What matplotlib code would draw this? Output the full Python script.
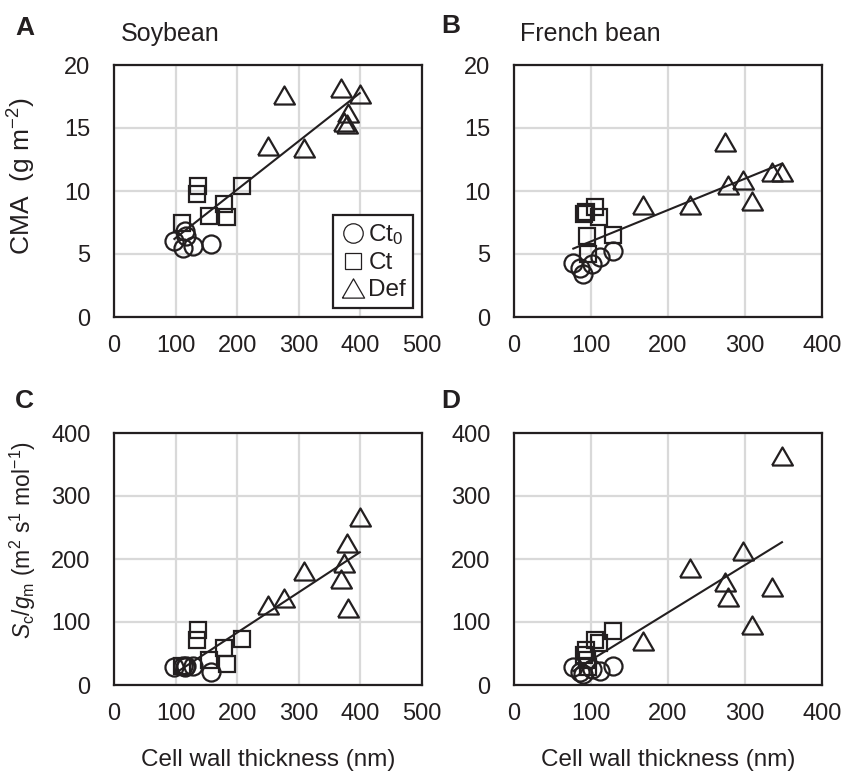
import numpy as np
import matplotlib
matplotlib.use("Agg")
import matplotlib.pyplot as plt
from matplotlib.lines import Line2D

plt.rcParams['font.family'] = ['Liberation Sans', 'DejaVu Sans']
plt.rcParams['mathtext.fontset'] = 'custom'
plt.rcParams['mathtext.rm'] = 'Liberation Sans'
plt.rcParams['mathtext.it'] = 'Liberation Sans:italic'
plt.rcParams['mathtext.bf'] = 'Liberation Sans:bold'

# ---------------- data ----------------
# Soybean
soy_ct0_x = [98, 112, 115, 117, 128, 158]
soy_ct0_cma = [6.0, 5.5, 6.8, 6.4, 5.6, 5.8]
soy_ct0_scgm = [28, 30, 28, 30, 30, 20]

soy_ct_x = [111, 135, 137, 155, 178, 183, 208]
soy_ct_cma = [7.5, 9.8, 10.4, 8.0, 9.0, 7.9, 10.4]
soy_ct_scgm = [30, 71, 87, 40, 59, 33, 73]

soy_def_x = [250, 276, 309, 368, 373, 378, 380, 399]
soy_def_cma = [13.6, 17.6, 13.4, 18.2, 15.5, 15.3, 16.2, 17.7]
soy_def_scgm = [127, 138, 181, 169, 194, 225, 122, 267]

# French bean
fb_ct0_x = [77, 86, 90, 101, 112, 128]
fb_ct0_cma = [4.3, 3.9, 3.4, 4.2, 4.8, 5.2]
fb_ct0_scgm = [29, 21, 18, 26, 22, 30]

fb_ct_x = [91, 93, 95, 96, 105, 110, 128]
fb_ct_cma = [8.2, 8.3, 6.4, 5.0, 8.7, 7.9, 6.5]
fb_ct_scgm = [48, 56, 40, 28, 71, 66, 85]

fb_def_x = [167, 228, 274, 278, 298, 309, 335, 348]
fb_def_cma = [8.9, 8.9, 13.9, 10.5, 10.9, 9.2, 11.5, 11.5]
fb_def_scgm = [70, 185, 164, 140, 212, 95, 156, 363]

legend_labels = ['Ct$_0$', 'Ct', 'Def']
titles = ['Soybean', 'French bean']
panel_letters = ['A', 'B', 'C', 'D']
xlabel = 'Cell wall thickness (nm)'
ylabel_top = 'CMA  (g m$^{-2}$)'
ylabel_bot = '$S_\\mathrm{c}/g_\\mathrm{m}$ (m$^2$ s$^1$ mol$^{-1}$)'

# ---------------- figure ----------------
W, H = 845, 776
fig = plt.figure(figsize=(W / 100, H / 100), dpi=100)

def fx(px):
    return px / W

def fy(py):
    return 1 - py / H

# equilateral-ish triangle marker
tri = [(-1, -0.866), (1, -0.866), (0, 0.866), (-1, -0.866)]

pos = {
    'A': [fx(114), fy(317), fx(422) - fx(114), fy(65) - fy(317)],
    'B': [fx(514), fy(317), fx(822) - fx(514), fy(65) - fy(317)],
    'C': [fx(114), fy(685), fx(422) - fx(114), fy(433) - fy(685)],
    'D': [fx(514), fy(685), fx(822) - fx(514), fy(433) - fy(685)],
}

panels = {
    'A': (soy_ct0_x, soy_ct0_cma, soy_ct_x, soy_ct_cma, soy_def_x, soy_def_cma, 500, 20, 5, 100),
    'B': (fb_ct0_x, fb_ct0_cma, fb_ct_x, fb_ct_cma, fb_def_x, fb_def_cma, 400, 20, 5, 100),
    'C': (soy_ct0_x, soy_ct0_scgm, soy_ct_x, soy_ct_scgm, soy_def_x, soy_def_scgm, 500, 400, 100, 100),
    'D': (fb_ct0_x, fb_ct0_scgm, fb_ct_x, fb_ct_scgm, fb_def_x, fb_def_scgm, 400, 400, 100, 100),
}

txtcol = '#231f20'
mew = 1.6

for key in ['A', 'B', 'C', 'D']:
    x0, y0, x1, y1, x2, y2, xmax, ymax, ystep, xstep = panels[key]
    ax = fig.add_axes(pos[key])
    ax.set_xlim(0, xmax)
    ax.set_ylim(0, ymax)
    ax.set_xticks(np.arange(0, xmax + 1, xstep))
    ax.set_yticks(np.arange(0, ymax + 0.001, ystep))
    ax.grid(True, color='#d9d9d9', lw=1.6, zorder=0)
    ax.set_axisbelow(True)
    for sp in ax.spines.values():
        sp.set_linewidth(1.6)
        sp.set_color('#231f20')
    ax.tick_params(length=0, labelsize=17, labelcolor=txtcol)
    ax.tick_params(axis='y', pad=17)
    ax.tick_params(axis='x', pad=13)

    ax.plot(x0, y0, ls='none', marker='o', ms=13, mfc='none', mec='#231f20', mew=mew, zorder=3)
    ax.plot(x1, y1, ls='none', marker='s', ms=11, mfc='none', mec='#231f20', mew=mew, zorder=3)
    ax.plot(x2, y2, ls='none', marker=tri, ms=15, mfc='none', mec='#231f20', mew=mew, zorder=3)

    allx = np.array(list(x0) + list(x1) + list(x2), dtype=float)
    ally = np.array(list(y0) + list(y1) + list(y2), dtype=float)
    k, b = np.polyfit(allx, ally, 1)
    xs = np.array([allx.min(), allx.max()])
    ax.plot(xs, k * xs + b, color='#231f20', lw=1.5, zorder=4)

    if key == 'A':
        handles = [
            Line2D([], [], ls='none', marker='o', ms=14, mfc='none', mec='#231f20', mew=0.9),
            Line2D([], [], ls='none', marker='s', ms=12, mfc='none', mec='#231f20', mew=0.9),
            Line2D([], [], ls='none', marker=tri, ms=16, mfc='none', mec='#231f20', mew=0.9),
        ]
        leg = ax.legend(handles, legend_labels, loc='lower right', fontsize=17.5,
                        frameon=True, fancybox=False, handletextpad=0.15,
                        handlelength=1.0, borderpad=0.3, labelspacing=0.2,
                        borderaxespad=0.35, framealpha=1)
        leg.get_frame().set_edgecolor('#231f20')
        leg.get_frame().set_linewidth(1.6)
        for t in leg.get_texts():
            t.set_color(txtcol)

# panel letters
for letter, (px, py) in zip(panel_letters, [(25, 28), (451, 26), (24, 401), (451, 401)]):
    fig.text(fx(px), fy(py), letter, fontsize=19, fontweight='bold', ha='center', va='center', color=txtcol)

# titles
fig.text(fx(121), fy(34), titles[0], fontsize=18, ha='left', va='center', color=txtcol)
fig.text(fx(520), fy(34), titles[1], fontsize=18, ha='left', va='center', color=txtcol)

# y labels
fig.text(fx(22), fy(176), ylabel_top, fontsize=19, rotation=90, ha='center', va='center', color=txtcol)
fig.text(fx(23), fy(540), ylabel_bot, fontsize=16.5, rotation=90, ha='center', va='center', color=txtcol)

# x labels
fig.text(fx(268), fy(760), xlabel, fontsize=17.5, ha='center', va='center', color=txtcol)
fig.text(fx(668), fy(760), xlabel, fontsize=17.5, ha='center', va='center', color=txtcol)

fig.savefig('out.png', dpi=100)
